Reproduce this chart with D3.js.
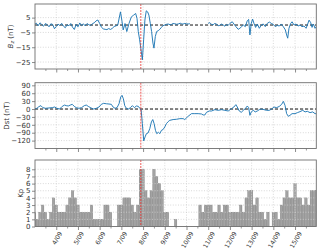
<!DOCTYPE html>
<html><head><meta charset="utf-8">
<script src="https://cdn.jsdelivr.net/npm/d3@7"></script>
<style>body{margin:0;background:#fff}svg{display:block}text{font-family:"DejaVu Sans",sans-serif}</style>
</head><body><svg id="c" width="320" height="249"></svg>
<script>
// ---- data (hours from 3 Sep 2017 00:00 UT) ----
const START = Date.UTC(2017, 8, 3);
const bzHours = [0,2,4,6,8,10,12,14,16,18,20,22,24,26,28,30,32,34,36,38,40,42,44,46,48,50,52,54,56,58,60,62,64,66,68,70,72,74,76,78,80,82,84,86,88,90,92,
  95,96.5,98,100,102,104.4,107,109.6,111.8,113.3,114.7,116.2,117.7,119.2,120.6,122,123.5,125,126.4,128,129.4,130.9,132,133.5,135,136.8,138.5,
  140.3,142,144,146,147.7,150,151.4,153,155,157,158.8,161,162.5,164,166.1,168,169.8,171.7,180,
  192,193.8,195.7,197.5,199,201.2,203,204.9,206.5,208.6,210.5,212.3,214,216,218.6,220.4,222.6,225.2,227,228.9,230.8,233,235.2,236.7,238.1,239.6,241.1,242.6,244.4,246.3,248.5,250.7,252.9,255.1,257.3,259.6,261.8,264,266.2,268.4,270.6,272.8,275,277.3,278.7,279.9,281.3,283.2,284.7,286.9,289.1,291.3,293.5,295.7,298,300.2,301.6,303.5,305.3,306.8,308.3,310.1,311.5];
const bzValues = [0.5,1.2,-0.5,1.5,0.3,-0.8,1.0,0.2,-1.2,0.8,0.4,-2.5,-1.0,0.6,-0.3,1.1,-0.8,-1.8,0.2,-0.5,1.0,-1.5,-3.0,0.5,-1.2,1.4,-0.4,0.8,-0.6,1.0,0.2,-0.3,0.9,1.5,2.8,3.4,1.0,-1.5,-2.6,-2.9,-3.1,-2.4,-3.0,-2.2,-1.0,-0.6,0,
  8.9,3.3,-3.3,1,-4.4,1,5.5,6.7,7.8,4.4,-4.4,-10,-16.7,-23.5,-10,3.3,9.6,8.9,6.7,1,-4.4,-12.2,-15.6,-7.8,-4.4,-3.8,-2.9,
  -1.6,-0.4,0,0.5,0.7,0.2,0.4,1.0,0.9,0.5,0.7,1.2,0.9,0.6,1.1,0.8,0.7,0.9,null,
  1.1,1.6,0.4,0.2,1.0,0.7,-0.5,-0.2,0.6,0,-0.8,0.4,-0.3,1.1,2.2,0.7,-1.1,-2.9,-2.2,-1.1,0,-1.1,2.9,3.8,-6.7,1.1,4,1.1,-1.6,0.7,-2.2,0,0.7,-1.1,1.1,2,1.1,0.4,-1.1,-0.2,-0.7,0.7,-1.1,-3.3,-6.7,-8.9,-2.2,1.1,2.2,0,0.7,-0.7,0,-1.1,-0.7,-2.2,0,3.3,1.6,-1.6,0.7,-2.2,-1.1];
const dstHours = [0,2.6,4.8,7,9.2,12.2,15.9,19.6,22.2,24.7,27.7,30.6,33.2,35,37.3,39.5,41.7,43.9,46.1,49.1,52,55,57.2,59.4,62.4,65.3,68.3,71.3,73.8,76.4,79.4,82.3,84.9,86.8,89,91.2,93.4,95.3,96.7,98.2,99.7,101.5,103.7,106,108.2,110.4,112.6,114.8,116.3,117.8,119.2,120.7,122.2,123.7,125.5,127.4,129.2,130.7,132.2,133.7,135.1,137,138.5,
  140.3,142.1,144,145.8,147.7,149.5,153.2,157,160.6,164.3,166.1,169.8,173.5,177.2,180.9,184.6,186.4,188.3,190.1,193.1,195.7,199.4,203.1,206.8,210.4,214.1,217.8,220.4,222.6,224.1,226.3,228.5,230.8,233,235.2,236.7,238.1,239.6,241.8,244,246.3,248.5,251.1,253.6,256.6,259.6,262.1,264.7,267.7,270.6,273.2,275.1,276.9,278.7,280.6,282.4,284.7,288,290.6,293.5,296.5,299.1,301.6,304.6,307.5,310.1,311.5];
const dstValues = [0,2.7,9,12.8,5.2,2.7,4,5.2,7.7,2.7,0,10,15,12.8,11.5,15,17.8,10,5.2,2.7,5.2,12.8,15,10,4,0,2.7,7.7,17.8,21.6,20,19,17.8,7.7,2.7,5.2,20,45.7,52,39,12.8,2.7,0,5.2,12.8,5.2,11.5,10,2.7,-2.4,-55.6,-121,-106,-93.5,-91,-74.6,-49,-40,-55.6,-81,-93.5,-88.5,-93.5,
  -81,-78,-68,-55.6,-48,-43,-40,-39,-36.6,-36.6,-40,-27.7,-17.6,-17.6,-17.6,-18.9,-22.6,-22.6,-12.5,-7.5,-7.5,-2.4,-5,-2.4,-5,-7.5,1.4,7.7,16.6,7.7,-7.5,-12.5,-5,1.4,11.5,5.2,-24,-11,-5,-11,-7.5,-2.4,0,-2.4,-5,-5,0,7.7,5.2,10,17.8,29,14,-17.6,-27.7,-24,-17.6,-17.6,-13.8,-10,-5,-11,-8.7,-13.8,-11,-17.6,-17.6];
const kpStepHours = 3;
const kpValues = [2,1,2,3,2,1,2,4, 3,2,2,2,3,4,5,4, 3,2,2,2,2,3,1,1, 1,1,3,3,2,0,0,3, 3,4,4,4,3,2,3,8,
  8,5,4,5,8,7,6,5, 2,2,0,0,1,0,0,0, 0,0,0,0,0,3,2,3, 3,3,2,2,3,2,3,3, 2,2,2,2,3,2,4,5,
  5,3,4,2,2,1,2,0, 2,2,1,3,4,5,4,4, 6,4,4,3,4,3,5,5, 5];
const dayTicks = [4,5,6,7,8,9,10,11,12,13,14,15];
const bzTicks = [5,-5,-15,-25];
const dstTicks = [90,60,30,0,-30,-60,-90,-120];
const kpTicks = [0,1,2,3,4,5,6,7,8];
const eventHour = 117.5;

// ---- drawing ----
const H = 3600e3;
const toDate = h => new Date(START + h * H);
const svg = d3.select("#c");
svg.append("rect").attr("width",320).attr("height",249).attr("fill","#fff");
const L = 35, R = 316.3;
const x = d3.scaleUtc().domain([toDate(0.5), toDate(311.5)]).range([L, R]);
const dayDates = dayTicks.map(d => new Date(Date.UTC(2017,8,d)));
const halfDates = d3.range(3,16).map(d => new Date(Date.UTC(2017,8,d,12)));

const panels = [
  {top:4, bottom:69, dom:[-29.7,14.2], ticks:bzTicks, label:"bz"},
  {top:82.7, bottom:148.5, dom:[-150,100], ticks:dstTicks, label:"Dst (nT)"},
  {top:160, bottom:226.5, dom:[0,9.3], ticks:kpTicks, label:"Kp"}
];
const gridCol = "#cfcfcf", spineCol = "#6f6f6f", txtCol = "#333";

panels.forEach((p, pi) => {
  p.y = d3.scaleLinear().domain(p.dom).range([p.bottom, p.top]);
  const g = svg.append("g");
  const cid = "clip" + pi;
  svg.append("clipPath").attr("id", cid).append("rect")
    .attr("x", L).attr("y", p.top).attr("width", R - L).attr("height", p.bottom - p.top);

  const content = g.append("g").attr("clip-path", `url(#${cid})`);
  if (pi === 2) {
    content.selectAll("rect.kp").data(kpValues).join("rect").attr("class","kp")
      .attr("x", (v,i) => x(toDate(i*kpStepHours - kpStepHours/2)) + 0.15)
      .attr("width", (v,i) => x(toDate(i*kpStepHours + kpStepHours/2)) - x(toDate(i*kpStepHours - kpStepHours/2)) - 0.3)
      .attr("y", v => p.y(v)).attr("height", v => p.y(0) - p.y(v))
      .attr("fill", "#a3a3a3").attr("stroke", "#6e6e6e").attr("stroke-width", 0.35);
  }
  content.selectAll("line.vg").data(dayDates).join("line")
    .attr("x1", d => x(d)).attr("x2", d => x(d)).attr("y1", p.top).attr("y2", p.bottom)
    .attr("stroke", gridCol).attr("stroke-width", 0.8).attr("stroke-dasharray", "1,1.6");
  content.selectAll("line.hg").data(p.ticks).join("line")
    .attr("x1", L).attr("x2", R).attr("y1", d => p.y(d)).attr("y2", d => p.y(d))
    .attr("stroke", gridCol).attr("stroke-width", 0.8).attr("stroke-dasharray", "1,1.6");

  if (pi < 2) {
    content.append("line").attr("x1", L).attr("x2", R).attr("y1", p.y(0)).attr("y2", p.y(0))
      .attr("stroke", "#111").attr("stroke-width", 1).attr("stroke-dasharray", "3,2");
    const hrs = pi === 0 ? bzHours : dstHours;
    const vals = pi === 0 ? bzValues : dstValues;
    const line = d3.line().defined(d => d[1] !== null)
      .x(d => x(toDate(d[0]))).y(d => p.y(d[1]));
    content.append("path").datum(hrs.map((h,i) => [h, vals[i]]))
      .attr("d", line).attr("fill","none").attr("stroke","#1f77b4").attr("stroke-width",0.95)
      .attr("stroke-linejoin","round");
  }
  content.append("line").attr("x1", x(toDate(eventHour))).attr("x2", x(toDate(eventHour)))
    .attr("y1", p.top).attr("y2", p.bottom)
    .attr("stroke", "#e8302c").attr("stroke-width", 0.8).attr("stroke-dasharray", "2,1");

  g.append("rect").attr("x", L).attr("y", p.top).attr("width", R - L).attr("height", p.bottom - p.top)
    .attr("fill","none").attr("stroke", spineCol).attr("stroke-width", 0.9);

  const ya = g.append("g").attr("transform", `translate(${L},0)`)
    .call(d3.axisLeft(p.y).tickValues(p.ticks).tickSize(3).tickPadding(1.5));
  ya.select(".domain").remove();
  ya.selectAll(".tick line").attr("stroke", spineCol).attr("stroke-width", 0.8);
  ya.selectAll(".tick text").attr("font-size", 7).attr("fill", txtCol)
    .attr("font-family", "DejaVu Sans");

  const xa = g.append("g").attr("transform", `translate(0,${p.bottom})`)
    .call(d3.axisBottom(x).tickValues(dayDates).tickSize(3.5).tickFormat(pi === 2 ? d3.utcFormat("%-d/%m") : () => ""));
  xa.select(".domain").remove();
  xa.selectAll(".tick line").attr("stroke", spineCol).attr("stroke-width", 0.8);
  const xm = g.append("g").attr("transform", `translate(0,${p.bottom})`)
    .call(d3.axisBottom(x).tickValues(halfDates).tickSize(2).tickFormat(() => ""));
  xm.select(".domain").remove();
  xm.selectAll(".tick line").attr("stroke", spineCol).attr("stroke-width", 0.7);

  if (pi === 2) {
    const th = 60 * Math.PI / 180, fs = 6.2;
    xa.selectAll(".tick text").each(function() {
      const t = d3.select(this);
      t.attr("font-size", fs).attr("fill", txtCol).attr("font-family","DejaVu Sans")
        .attr("text-anchor","middle").attr("dominant-baseline","central").attr("y", null).attr("dy", null);
      const w = this.getComputedTextLength();
      const bh = w * Math.sin(th) + fs * 0.75 * Math.cos(th);
      t.attr("transform", `translate(0,${3.5 + 0.8 + bh/2}) rotate(-60)`);
    });
  }

  const cy = (p.top + p.bottom) / 2;
  const lx = pi === 0 ? 10.7 : (pi === 1 ? 6.8 : 20.8);
  const lab = g.append("text").attr("transform", `translate(${lx},${cy}) rotate(-90)`)
    .attr("text-anchor","middle").attr("dominant-baseline","central")
    .attr("font-size", 7).attr("fill", txtCol);
  if (p.label === "bz") {
    lab.append("tspan").attr("font-style","italic").text("B");
    lab.append("tspan").attr("font-style","italic").attr("font-size",5).attr("dy",1.5).text("z");
    lab.append("tspan").attr("dy",-1.5).text(" (nT)");
  } else {
    lab.text(p.label);
  }
});
</script></body></html>
